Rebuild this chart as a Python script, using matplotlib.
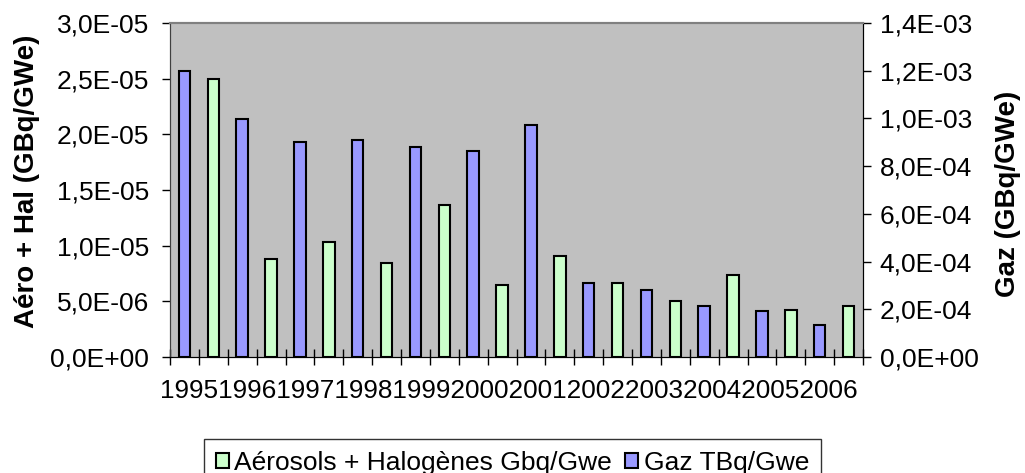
import matplotlib.pyplot as plt
import matplotlib
from matplotlib.ticker import FuncFormatter
from matplotlib.patches import Patch

matplotlib.rcParams['font.family'] = ['Liberation Sans', 'DejaVu Sans']

annees = ['1995', '1996', '1997', '1998', '1999', '2000',
          '2001', '2002', '2003', '2004', '2005', '2006']

# 24 categories: Gaz on even slots, Aerosols on odd slots
pos_gaz = [0, 2, 4, 6, 8, 10, 12, 14, 16, 18, 20, 22]
pos_aero = [1, 3, 5, 7, 9, 11, 13, 15, 17, 19, 21, 23]

gaz = [1.20e-3, 9.96e-4, 9.02e-4, 9.11e-4, 8.79e-4, 8.65e-4,
       9.72e-4, 3.11e-4, 2.81e-4, 2.12e-4, 1.94e-4, 1.34e-4]
aero = [2.50e-5, 8.83e-6, 1.033e-5, 8.47e-6, 1.368e-5, 6.43e-6,
        9.07e-6, 6.67e-6, 5.03e-6, 7.39e-6, 4.19e-6, 4.55e-6]

vert = '#CCFFCC'
bleu = '#9999FF'

W, H = 1025, 473
fig = plt.figure(figsize=(W / 100, H / 100), dpi=100)
ax = fig.add_axes([170 / W, 1 - 357 / H, 693 / W, 334 / H])
ax2 = ax.twinx()

ax.set_facecolor('#C0C0C0')
ax.bar(pos_aero, aero, width=0.4, color=vert, edgecolor='black', linewidth=1.5)
ax2.bar(pos_gaz, gaz, width=0.4, color=bleu, edgecolor='black', linewidth=1.5)

ax.set_xlim(-0.5, 23.5)
ax.set_ylim(0, 3.0e-5)
ax2.set_ylim(0, 1.4e-3)
ax.set_yticks([i * 5e-6 for i in range(7)])
ax2.set_yticks([i * 2e-4 for i in range(8)])

def fmt(v, p):
    s = '%.1E' % v
    return s.replace('.', ',')

ax.yaxis.set_major_formatter(FuncFormatter(fmt))
ax2.yaxis.set_major_formatter(FuncFormatter(fmt))

ax.set_xticks([i - 0.5 for i in range(25)])
ax.set_xticklabels([])
ax.tick_params(axis='x', direction='inout', length=11, width=1)
ax.tick_params(axis='y', direction='out', length=6, width=1, labelsize=19, pad=9)
ax2.tick_params(axis='y', direction='out', length=6, width=1, labelsize=19, pad=6)

for a in (ax, ax2):
    a.spines['top'].set_color('#808080')
    a.spines['top'].set_linewidth(1.5)
    a.spines['left'].set_color('#404040')
    a.spines['right'].set_color('black')

fig.text(160 / W, 1 - 391 / H, ''.join(annees), fontsize=18.8, ha='left', va='center')

fig.text(27 / W, 1 - 181 / H, 'Aéro + Hal (GBq/GWe)', rotation=90, fontsize=20,
         fontweight='bold', ha='center', va='center')
fig.text(1008 / W, 1 - 194 / H, 'Gaz (GBq/GWe)', rotation=90, fontsize=20,
         fontweight='bold', ha='center', va='center')

handles = [Patch(facecolor=vert, edgecolor='black', linewidth=1.5),
           Patch(facecolor=bleu, edgecolor='black', linewidth=1.5)]
fig.legend(handles, ['Aérosols + Halogènes Gbq/Gwe', 'Gaz TBq/Gwe'],
           loc='upper left', bbox_to_anchor=(204 / W, 1 - 439 / H), ncol=2,
           fontsize=19, frameon=True, fancybox=False, edgecolor='black',
           handlelength=0.5, handleheight=0.5, handletextpad=0.2,
           columnspacing=0.5, borderpad=0.45, borderaxespad=0)

fig.savefig('out.png', dpi=100)
